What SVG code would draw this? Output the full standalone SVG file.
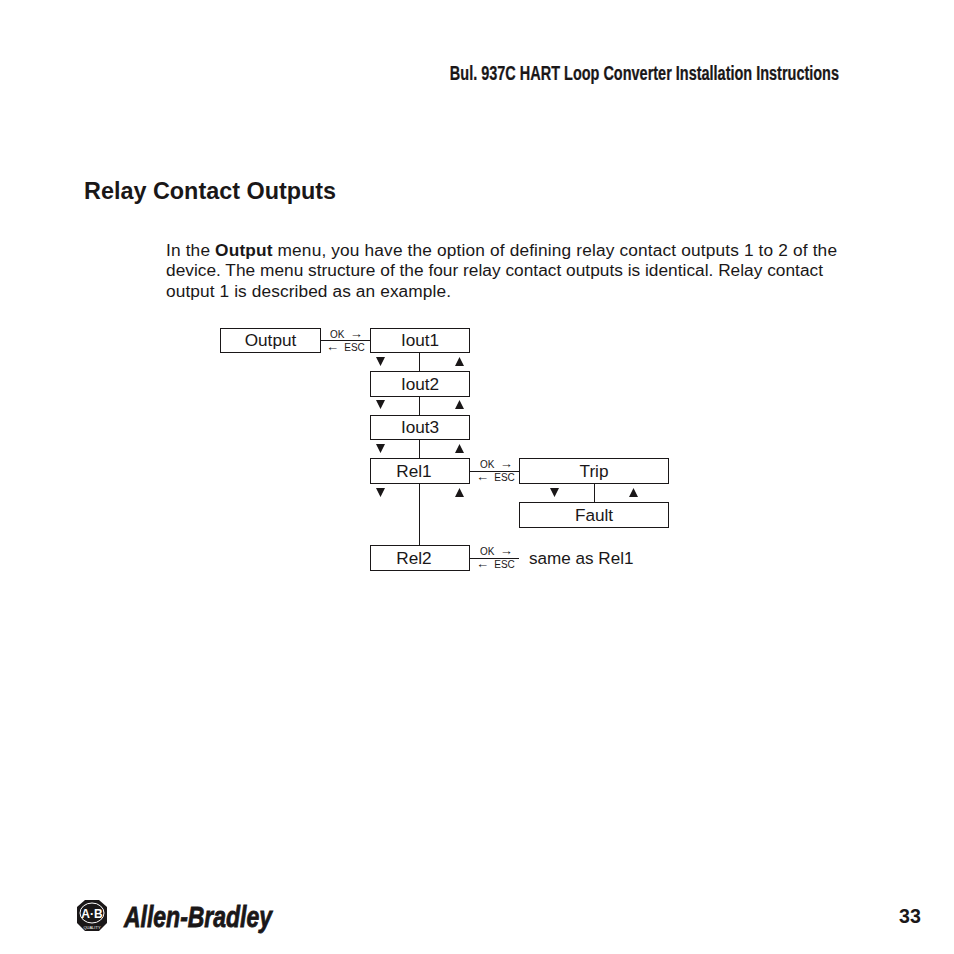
<svg xmlns="http://www.w3.org/2000/svg" width="954" height="954" viewBox="0 0 954 954">
<style>
text{font-family:"Liberation Sans",Arial,sans-serif;fill:#1a1718}
.box{fill:#fff;stroke:#1a1718;stroke-width:1}
.l{font-size:17.2px;text-anchor:middle}
.b{font-size:17.300px}
.s{font-size:10px;word-spacing:2.500px}
.a{font-size:13px}
.c line{stroke:#1a1718;stroke-width:1}
.t{fill:#1a1718}
</style>
<rect width="954" height="954" fill="#fff"/>
<text id="header" transform="translate(839 80) scale(0.743 1)" text-anchor="end" font-size="19.500" font-weight="700" stroke="#1a1718" stroke-width="0.25">Bul. 937C HART Loop Converter Installation Instructions</text>
<text id="title" x="84" y="199" font-size="23.4" font-weight="700">Relay Contact Outputs</text>
<text class="b" x="166" y="256" textLength="671">In the <tspan font-weight="700">Output</tspan> menu, you have the option of defining relay contact outputs 1 to 2 of the</text>
<text class="b" x="166" y="276" textLength="657">device. The menu structure of the four relay contact outputs is identical. Relay contact</text>
<text class="b" x="166" y="297" textLength="285">output 1 is described as an example.</text>
<g class="c" id="connectors">
<line x1="320" y1="340.500" x2="370" y2="340.500"/>
<line x1="470" y1="471.500" x2="519" y2="471.500"/>
<line x1="470" y1="558.500" x2="519" y2="558.500"/>
<line x1="419.500" y1="353" x2="419.500" y2="371"/>
<line x1="419.500" y1="397" x2="419.500" y2="415"/>
<line x1="419.500" y1="440" x2="419.500" y2="458"/>
<line x1="419.500" y1="484" x2="419.500" y2="545"/>
<line x1="594.500" y1="484" x2="594.500" y2="502"/>
</g>
<g id="arrows" class="t">
<path d="M376 357h9l-4.500 9zM455 366h9l-4.500-9zM376 400h9l-4.500 9zM455 409h9l-4.500-9zM376 444h9l-4.500 9zM455 453h9l-4.500-9zM376 488h9l-4.500 9zM455 497h9l-4.500-9zM550 488h9l-4.500 9zM629 497h9l-4.500-9z"/>
</g>
<g id="n-output"><rect class="box" x="220.500" y="328.500" width="100" height="24"/><text class="l" x="270.500" y="346">Output</text></g>
<g id="n-iout1"><rect class="box" x="370.500" y="328.500" width="99" height="24"/><text class="l" x="420" y="346">Iout1</text></g>
<g id="n-iout2"><rect class="box" x="370.500" y="371.500" width="99" height="25"/><text class="l" x="420" y="390">Iout2</text></g>
<g id="n-iout3"><rect class="box" x="370.500" y="415.500" width="99" height="24"/><text class="l" x="420" y="433">Iout3</text></g>
<g id="n-rel1"><rect class="box" x="370.500" y="458.500" width="99" height="25"/><text class="l" x="414" y="477">Rel1</text></g>
<g id="n-rel2"><rect class="box" x="370.500" y="545.500" width="99" height="25"/><text class="l" x="414" y="564">Rel2</text></g>
<g id="n-trip"><rect class="box" x="519.500" y="458.500" width="149" height="25"/><text class="l" x="594" y="477">Trip</text></g>
<g id="n-fault"><rect class="box" x="519.500" y="502.500" width="149" height="25"/><text class="l" x="594" y="521">Fault</text></g>
<text class="s" x="330" y="338">OK <tspan class="a">→</tspan></text><text class="s" x="326" y="351"><tspan class="a">←</tspan> ESC</text>
<text class="s" x="480" y="468">OK <tspan class="a">→</tspan></text><text class="s" x="476" y="481"><tspan class="a">←</tspan> ESC</text>
<text class="s" x="480" y="555">OK <tspan class="a">→</tspan></text><text class="s" x="476" y="568"><tspan class="a">←</tspan> ESC</text>
<text x="529" y="564" font-size="17.100">same as Rel1</text>
<g id="logo">
<path class="t" d="M85 900h14l8 7v16l-8 8h-14l-8-8v-16z"/>
<ellipse cx="92" cy="913" rx="12" ry="10" fill="none" stroke="#fff" stroke-width="1"/>
<text x="92" y="917.500" font-size="12" font-weight="700" text-anchor="middle" style="fill:#fff">A·B</text>
<text x="92" y="929" font-size="4" text-anchor="middle" style="fill:#fff">QUALITY</text>
<text x="124" y="927" font-size="29" font-weight="700" font-style="italic" textLength="148" lengthAdjust="spacingAndGlyphs" stroke="#1a1718" stroke-width="0.8">Allen-Bradley</text>
</g>
<text id="page" x="899" y="923" font-size="19.600" font-weight="700">33</text>
</svg>
